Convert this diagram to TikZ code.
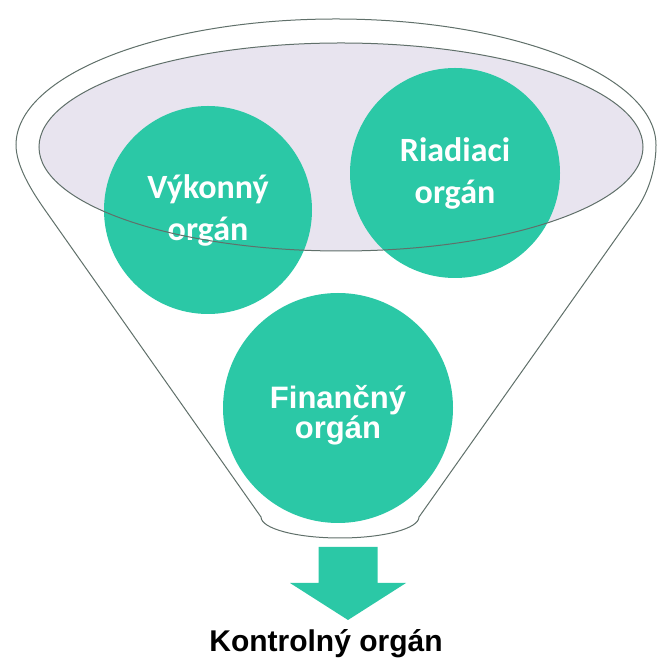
\documentclass[tikz,border=0pt]{standalone}
\usepackage{fontspec}
\setmainfont{Liberation Sans}
\newfontfamily\bodyfont{Carlito}
\usetikzlibrary{positioning}

\definecolor{organteal}{RGB}{43,200,166}
\definecolor{rimgray}{RGB}{96,112,106}
\definecolor{rimfill}{RGB}{232,228,239}

\begin{document}
\begin{tikzpicture}[
    x=1pt, y=1pt,
    rim/.style={draw=rimgray, line width=1pt},
    organ/.style={circle, fill=organteal, text=white, align=center,
                  inner sep=0pt},
    organlabel/.style={text=white, align=center,
                       font=\bfseries\fontsize{31}{29}\selectfont},
    softlabel/.style={font=\bodyfont\bfseries\fontsize{34}{42}\selectfont},
    result/.style={font=\bfseries\fontsize{30}{36}\selectfont, text=black},
]
\useasboundingbox (0,0) rectangle (661,669);

% --- funnel body ---
\draw[rim, fill=white] (261,152) -- (45,459)
    .. controls (30.6,479.4) and (16,504) .. (16,524)
    arc[start angle=180, end angle=0, x radius=320, y radius=126]
    .. controls (656,504) and (650.4,479.4) .. (636,459)
    -- (419,152)
    arc[start angle=0, end angle=-180, x radius=79, y radius=21]
    -- cycle;

% --- funnel mouth ---
\fill[rimfill] (341,522) ellipse[x radius=302, y radius=104];

% --- organs ---
\node[organ, softlabel, minimum size=208pt] (vykon) at (208,459)
    {V\'ykonn\'y\\org\'an};
\node[organ, softlabel, minimum size=210pt] (riad) at (455,496)
    {Riadiaci\\org\'an};
\node[organ, minimum size=230pt] (fin) at (338,261) {};
\node[organlabel] (fintext) at ([yshift=-7pt]fin.center)
    {Finan\v{c}n\'y\\org\'an};

% mouth outline on top
\draw[rim] (341,522) ellipse[x radius=302, y radius=104];

% --- outlet arrow and result ---
\coordinate (arrtop) at (348,122);
\coordinate (arrtip) at (348,49);
\fill[organteal] (318.5,122) -- (318.5,86) -- (290,86) -- (arrtip)
    -- (406,86) -- (377.5,86) -- (377.5,122) -- cycle;

\node[result, anchor=base] (ctrl) at (326,17) {Kontroln\'y org\'an};

\end{tikzpicture}
\end{document}
